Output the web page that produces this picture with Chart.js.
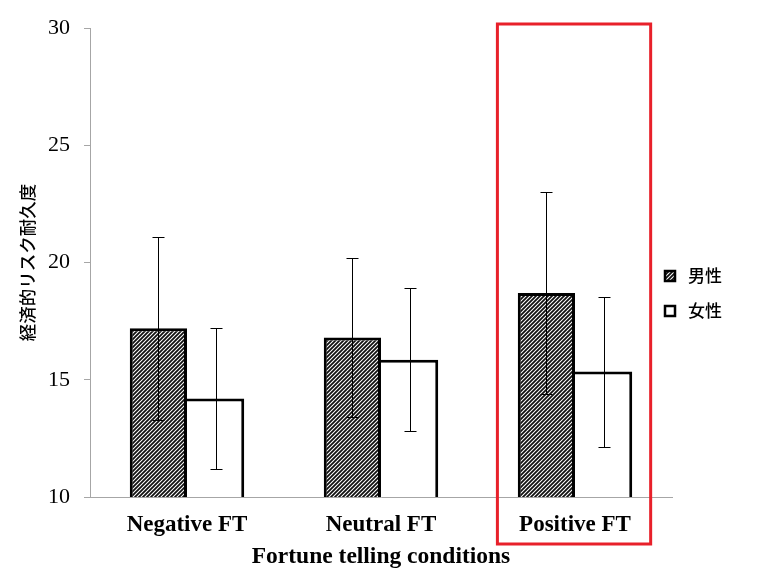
<!DOCTYPE html>
<html>
<head>
<meta charset="utf-8">
<script src="https://cdn.jsdelivr.net/npm/chart.js@4"></script>
<style>
  html, body { margin: 0; padding: 0; background: #fff; }
  canvas { display: block; }
</style>
</head>
<body>
<canvas id="c" width="775" height="586"></canvas>
<script>
// ---- data ----
const categories = ['Negative FT', 'Neutral FT', 'Positive FT'];
const seriesNames = ['男性', '女性'];
const maleMeans = [17.2, 16.8, 18.7];
const maleErr = [3.9, 3.4, 4.3];
const femaleMeans = [14.2, 15.85, 15.35];
const femaleErr = [3.0, 3.05, 3.2];
const yTicks = [10, 15, 20, 25, 30];
const highlightIndex = 2;
const xTitle = 'Fortune telling conditions';
const yTitle = '経済的リスク耐久度';

// ---- hatch pattern ----
function makeHatch() {
  const p = document.createElement('canvas');
  p.width = 4; p.height = 4;
  const g = p.getContext('2d');
  g.fillStyle = '#ffffff';
  g.fillRect(0, 0, 4, 4);
  g.strokeStyle = '#111';
  g.lineWidth = 1.8;
  g.beginPath();
  g.moveTo(-1, 5); g.lineTo(5, -1);
  g.moveTo(-1, 1); g.lineTo(1, -1);
  g.moveTo(3, 5); g.lineTo(5, 3);
  g.stroke();
  return document.getElementById('c').getContext('2d').createPattern(p, 'repeat');
}
const hatch = makeHatch();

const errors = [maleErr, femaleErr];

const errorBarPlugin = {
  id: 'errorBars',
  afterDatasetsDraw(chart) {
    const ctx = chart.ctx;
    const y = chart.scales.y;
    ctx.save();
    ctx.strokeStyle = '#000';
    ctx.lineWidth = 1;
    chart.data.datasets.forEach((ds, di) => {
      const meta = chart.getDatasetMeta(di);
      meta.data.forEach((bar, i) => {
        const v = ds.data[i], e = errors[di][i];
        const x = Math.round(bar.x) + 0.5;
        const yt = Math.round(y.getPixelForValue(v + e)) + 0.5;
        const yb = Math.round(y.getPixelForValue(v - e)) + 0.5;
        ctx.beginPath();
        ctx.moveTo(x, yt); ctx.lineTo(x, yb);
        ctx.moveTo(x - 6, yt); ctx.lineTo(x + 6, yt);
        ctx.moveTo(x - 6, yb); ctx.lineTo(x + 6, yb);
        ctx.stroke();
      });
    });
    ctx.restore();
  }
};

const overlayPlugin = {
  id: 'overlay',
  afterDraw(chart) {
    const ctx = chart.ctx;
    const xs = chart.scales.x, ys = chart.scales.y;
    const area = chart.chartArea;
    // highlight box
    const cw = xs.width / categories.length;
    const cx = xs.getPixelForValue(highlightIndex);
    ctx.save();
    ctx.strokeStyle = '#e8202a';
    ctx.lineWidth = 3;
    ctx.strokeRect(cx - 0.4 * cw, ys.top - 4, 0.79 * cw, chart.height - 42 - (ys.top - 4));
    // legend
    const fills = [hatch, '#ffffff'];
    const lx = area.right - 8;
    const ly0 = 270;
    ctx.font = '500 17px "Noto Sans CJK JP"';
    ctx.textBaseline = 'middle';
    ctx.textAlign = 'left';
    seriesNames.forEach((name, i) => {
      const by = ly0 + i * 35;
      ctx.fillStyle = fills[i];
      ctx.fillRect(lx, by, 12, 12);
      ctx.strokeStyle = '#000';
      ctx.lineWidth = 2.5;
      ctx.strokeRect(lx + 1, by + 1, 10, 10);
      ctx.fillStyle = '#000';
      ctx.fillText(name, lx + 24, by + 6);
    });
    ctx.restore();
  }
};

new Chart(document.getElementById('c'), {
  type: 'bar',
  data: {
    labels: categories,
    datasets: [
      { label: seriesNames[0], data: maleMeans, backgroundColor: hatch, borderColor: '#000', borderWidth: 3, borderSkipped: false },
      { label: seriesNames[1], data: femaleMeans, backgroundColor: '#ffffff', borderColor: '#000', borderWidth: 3, borderSkipped: 'left' }
    ]
  },
  options: {
    responsive: false,
    animation: false,
    devicePixelRatio: 1,
    layout: { padding: { left: 0, right: 103, top: 28, bottom: 0 } },
    plugins: { legend: { display: false }, tooltip: { enabled: false } },
    datasets: { bar: { categoryPercentage: 0.59, barPercentage: 1.0 } },
    scales: {
      x: {
        grid: { display: false, drawTicks: false },
        border: { display: true, color: '#a6a6a6', width: 1 },
        ticks: { color: '#000', font: { family: '"Liberation Serif", "Times New Roman", serif', size: 23, weight: 'bold' }, padding: 14 },
        title: { display: true, text: xTitle, color: '#000', font: { family: '"Liberation Serif", "Times New Roman", serif', size: 23.5, weight: 'bold' }, padding: { top: 0, bottom: 15 } },
        afterFit(s) { s.height = 89; }
      },
      y: {
        min: 10, max: 30,
        afterBuildTicks(s) { s.ticks = yTicks.map(v => ({ value: v })); },
        grid: { display: true, drawOnChartArea: false, drawTicks: true, tickLength: 6, color: '#a6a6a6' },
        border: { display: true, color: '#a6a6a6', width: 1 },
        ticks: { color: '#000', font: { family: '"Liberation Serif", "Times New Roman", serif', size: 22 }, padding: 14 },
        title: { display: true, text: yTitle, color: '#000', font: { family: '"Noto Sans CJK JP", sans-serif', size: 17.5, weight: '500' }, padding: { top: 17, bottom: 0 } },
        afterFit(s) { s.width = 90; }
      }
    }
  },
  plugins: [errorBarPlugin, overlayPlugin]
});
</script>
</body>
</html>
